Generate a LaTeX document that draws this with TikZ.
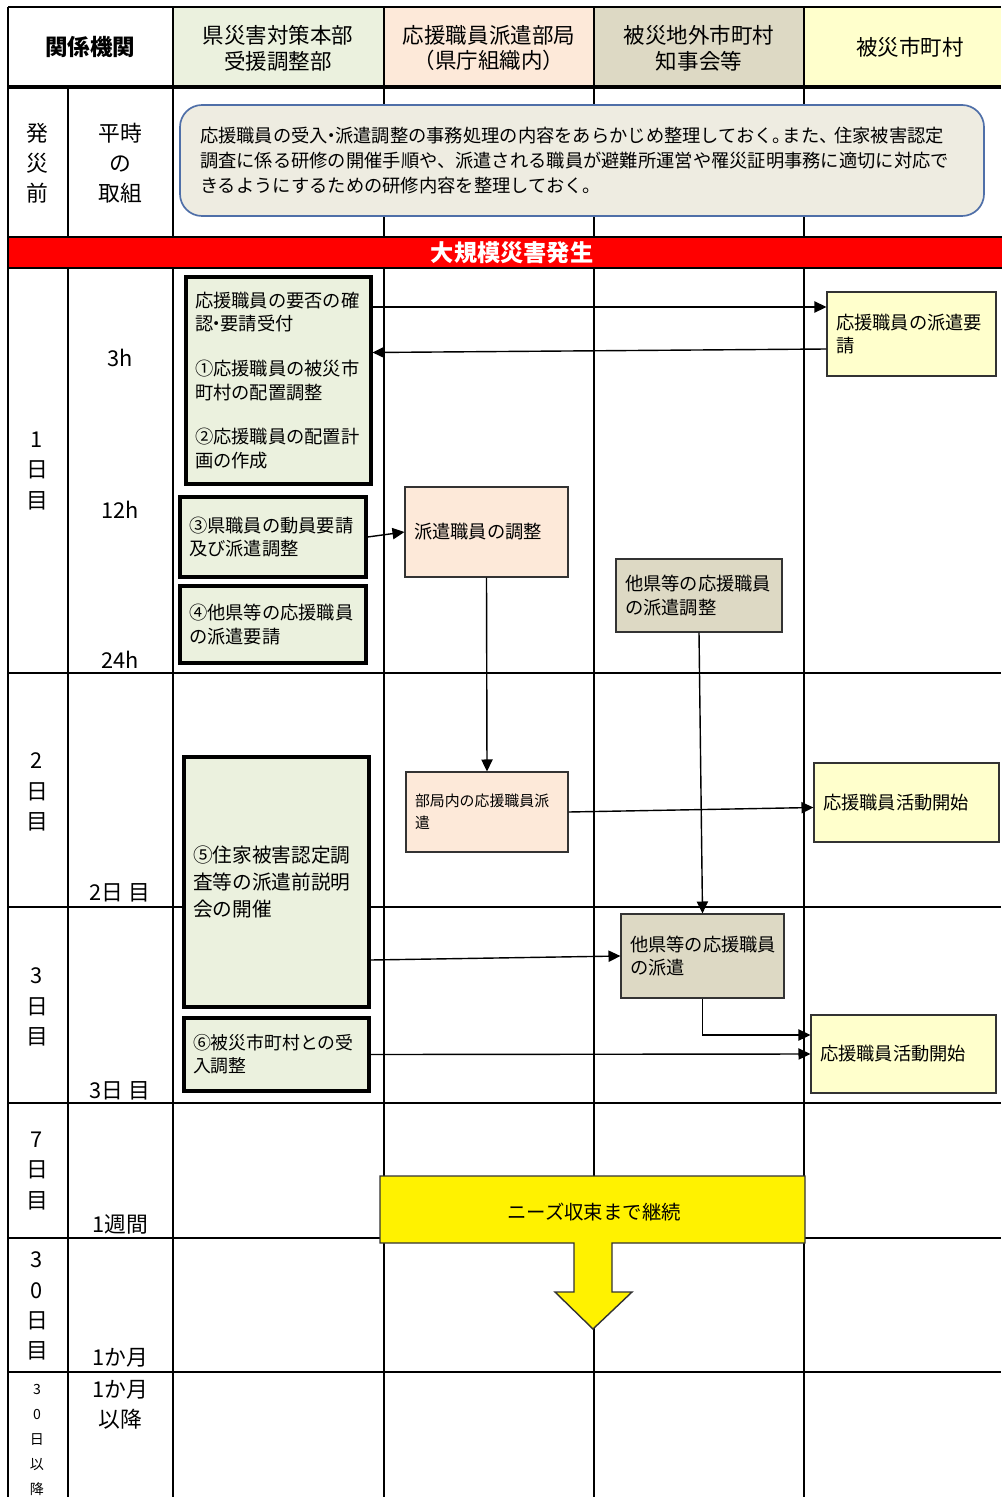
\documentclass[tikz,border=0pt]{standalone}
\usepackage{fontspec}
\setmainfont{Noto Sans CJK JP}
\usetikzlibrary{positioning, arrows.meta}

\definecolor{kencol}{HTML}{EBF1DE}
\definecolor{bukyokucol}{HTML}{FDE9D9}
\definecolor{chijicol}{HTML}{DDD9C4}
\definecolor{shicol}{HTML}{FFFFCC}
\definecolor{heijicol}{HTML}{EEECE1}
\definecolor{heijiline}{HTML}{4F6FA8}

\newdimen\pxu \pxu=0.025cm

\tikzset{
  rule/.style={line width=2pt},
  head/.style={align=center, font=\fontsize{15.3}{18.4}\selectfont},
  daylab/.style={align=center, font=\fontsize{15.5}{21.5}\selectfont},
  timelab/.style={align=center, font=\fontsize{15.5}{21}\selectfont},
  kenbox/.style={draw=black, line width=2.2pt, fill=kencol, inner xsep=9\pxu, align=left, font=\fontsize{13}{16.8}\selectfont},
  bukyokubox/.style={draw=black!80, line width=0.8pt, fill=bukyokucol, inner xsep=9\pxu, align=left, font=\fontsize{13}{16.5}\selectfont},
  chijibox/.style={draw=black!80, line width=0.8pt, fill=chijicol, inner xsep=9\pxu, align=left, font=\fontsize{13}{16.5}\selectfont},
  shibox/.style={draw=black!80, line width=0.8pt, fill=shicol, inner xsep=9\pxu, align=left, font=\fontsize{13}{16.8}\selectfont},
  flow/.style={->, line width=1pt}
}

\begin{document}
\begin{tikzpicture}[x=\pxu, y=-\pxu, >={Triangle[length=8.5pt,width=8pt]}]
\useasboundingbox (0,0) rectangle (1001,1497);

% header cells
\fill[kencol] (173,7) rectangle (384,86);
\fill[bukyokucol] (384,7) rectangle (594,86);
\fill[chijicol] (594,7) rectangle (804,86);
\fill[shicol] (804,7) rectangle (1001,86);

% table rules
\draw[rule] (8,7) -- (1001,7);
\draw[rule, line width=3pt] (8,87) -- (1001,87);
\foreach \y in {673,907,1103,1238,1372}
  \draw[rule] (8,\y) -- (1001,\y);
\foreach \x in {8,173,384,594,804}
  \draw[rule] (\x,7) -- (\x,1497);
\draw[rule] (68,87) -- (68,1497);

% header texts
\node[font=\bfseries\fontsize{16}{18}\selectfont] (kikan) at (90,47) {関係機関};
\node[head] (honbu) at (278,48) {県災害対策本部\\受援調整部};
\node[head] (bukyoku) at (489,48) {応援職員派遣部局\\（県庁組織内）};
\node[head] (chiji) at (699,48) {被災地外市町村\\知事会等};
\node[head] (hisai) at (910,47) {被災市町村};

% before the disaster
\node[daylab] (mae) at (37,163) {発\\災\\前};
\node[daylab] (heiji) at (120,163) {平時\\の\\取組};
\node[draw=heijiline, fill=heijicol, rounded corners=22\pxu, line width=1.2pt, text width=764\pxu, inner xsep=20\pxu, minimum height=111\pxu, align=left, font=\fontsize{13}{17.7}\selectfont] (torikumi) at (582,160.5)
  {応援職員の受入\kern-.3em・\kern-.3em 派遣調整の事務処理の内容をあらかじめ整理しておく。\kern-.45em また、\kern-.2em 住家被害認定\\調査に係る研修の開催手順や、派遣される職員が避難所運営や罹災証明事務に適切に対応で\\きるようにするための研修内容を整理しておく。};

% red band
\node[fill=red, draw=black, line width=1.5pt, minimum width=1008\pxu, minimum height=31\pxu, inner sep=0pt, text=white, font=\bfseries\fontsize{16.5}{18}\selectfont] (hassei) at (512,252.5) {大規模災害発生};

% day labels
\node[daylab] (day1) at (37,471) {1\\日\\目};
\node[daylab] (day2) at (37,792) {2\\日\\目};
\node[daylab] (day3) at (37,1007) {3\\日\\目};
\node[daylab] (day7) at (37,1171) {7\\日\\目};
\node[daylab] (day30) at (37,1306) {3\\0\\日\\目};
\node[align=center, font=\fontsize{10}{17.7}\selectfont] (dayafter) at (37,1440) {3\\0\\日\\以\\降};

\node[timelab] (t3) at (120,358) {3h};
\node[timelab] (t12) at (120,510) {12h};
\node[timelab] (t24) at (120,660) {24h};
\node[timelab] (t2d) at (120,893) {2日 目};
\node[timelab] (t3d) at (120,1091) {3日 目};
\node[timelab] (t1w) at (120,1224) {1週間};
\node[timelab] (t1m) at (120,1358) {1か月};
\node[timelab] (tafter) at (120,1405) {1か月\\以降};

% prefectural headquarters
\node[kenbox, text width=167\pxu, minimum height=207\pxu] (yohi) at (278.5,380.5)
  {応援職員の要否の確\\認\kern-.3em・\kern-.3em 要請受付\\[15pt]①応援職員の被災市\\町村の配置調整\\[15pt]②応援職員の配置計\\画の作成};
\node[kenbox, text width=168\pxu, minimum height=80\pxu] (doin) at (273,537) {③県職員の動員要請\\及び派遣調整};
\node[kenbox, text width=168\pxu, minimum height=77\pxu] (taken) at (273,624.5) {④他県等の応援職員\\の派遣要請};
\node[kenbox, text width=167\pxu, minimum height=250\pxu, font=\fontsize{14}{19}\selectfont] (setsumei) at (276.5,882) {⑤住家被害認定調\\査等の派遣前説明\\会の開催};
\node[kenbox, text width=167\pxu, minimum height=73\pxu, font=\fontsize{12.7}{16.5}\selectfont] (ukeire) at (276.5,1054.5) {⑥被災市町村との受\\入調整};

% departments
\node[bukyokubox, text width=145\pxu, minimum height=90\pxu] (chosei) at (486.5,532) {派遣職員の調整};
\node[bukyokubox, text width=144\pxu, minimum height=80\pxu, font=\fontsize{10.6}{15.6}\selectfont] (buhaken) at (487,812) {部局内の応援職員派\\遣};

% other municipalities
\node[chijibox, text width=148\pxu, minimum height=73\pxu] (takenchosei) at (699,595.5) {他県等の応援職員\\の派遣調整};
\node[chijibox, text width=145\pxu, minimum height=84\pxu] (takenhaken) at (702.5,956) {他県等の応援職員\\の派遣};

% affected municipalities
\node[shibox, text width=151\pxu, minimum height=84\pxu] (yosei) at (911.5,334) {応援職員の派遣要\\請};
\node[shibox, text width=167\pxu, minimum height=79\pxu] (kaishi1) at (906.5,802.5) {応援職員活動開始};
\node[shibox, text width=167\pxu, minimum height=78\pxu] (kaishi2) at (903.5,1054) {応援職員活動開始};

% connectors
\coordinate (a1) at ([yshift=27\pxu]yosei.west);
\draw[flow] (yohi.east |- a1) -- (a1);
\draw[flow] ([yshift=-15\pxu]yosei.west) -- ([yshift=28\pxu]yohi.east);
\draw[flow] (doin.east) -- (chosei.west);
\draw[flow] (chosei.south) -- (buhaken.north);
\draw[flow] (buhaken.east) -- ([yshift=-5\pxu]kaishi1.west);
\draw[flow] (takenchosei.south) -- (takenhaken.north);
\draw[flow] ([yshift=-78\pxu]setsumei.east) -- (takenhaken.west);
\draw[flow] (takenhaken.south) |- ([yshift=19\pxu]kaishi2.west);
\draw[flow] (ukeire.east) -- (kaishi2.west);

% continue until needs settle
\draw[fill=yellow, line width=1pt, draw=black!80] (380,1176) -- (805,1176) -- (805,1243) -- (612,1243) -- (612,1292) -- (632,1292) -- (593,1329) -- (555,1292) -- (574,1292) -- (574,1243) -- (380,1243) -- cycle;
\node[font=\fontsize{13.8}{16}\selectfont] (keizoku) at (594,1212) {ニーズ収束まで継続};
\end{tikzpicture}
\end{document}
